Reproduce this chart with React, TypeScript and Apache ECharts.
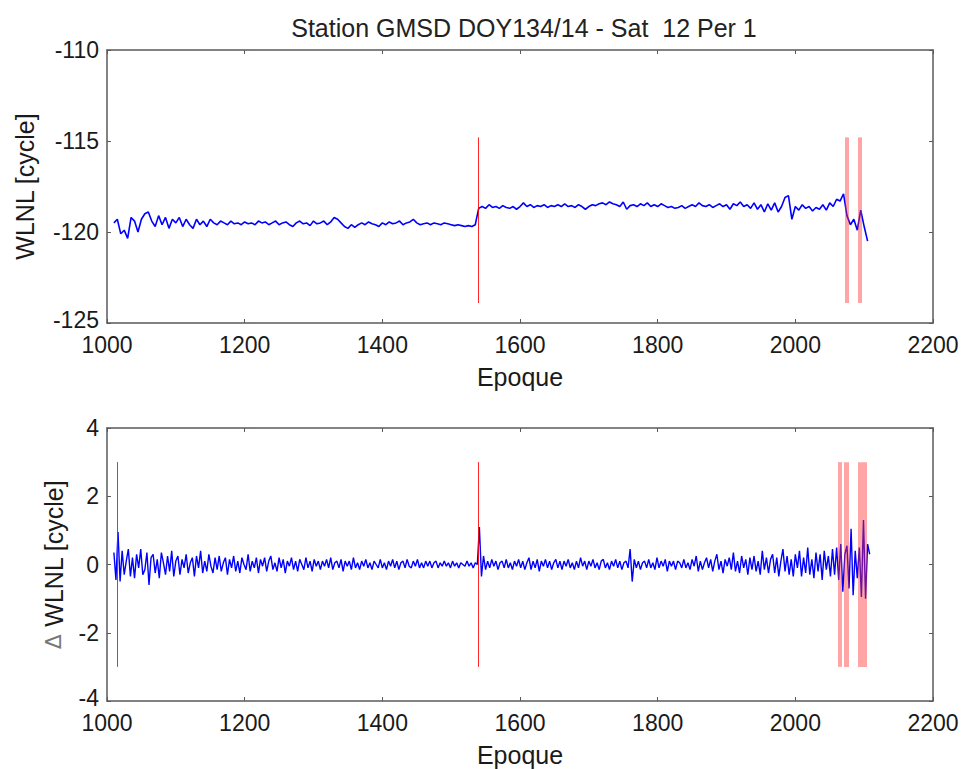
import React, { useEffect, useRef } from "react";
import * as echarts from "echarts";

const title = "Station GMSD DOY134/14 - Sat  12 Per 1";
const xAxisName = "Epoque";
const topYName = "WLNL [cycle]";
const bottomYName = "{d|\u0394} WLNL [cycle]";

// top panel: WLNL, epochs 1010, 1015, ... (step 5)
const topStartEpoch = 1010;
const topStep = 5;
const topWLNL = [
  -119.5, -119.3, -120.1, -119.9, -120.35, -119.2, -119.4, -120.0, -119.3, -119.0,
  -118.9, -119.4, -119.7, -119.1, -119.6, -119.2, -119.8, -119.3, -119.5, -119.2,
  -119.7, -119.3, -119.6, -119.8, -119.3, -119.6, -119.4, -119.7, -119.3, -119.5,
  -119.6, -119.4, -119.5, -119.6, -119.4, -119.55, -119.5, -119.6, -119.45, -119.55,
  -119.5, -119.6, -119.4, -119.5, -119.45, -119.6, -119.5, -119.4, -119.6, -119.5,
  -119.45, -119.6, -119.7, -119.5, -119.4, -119.55, -119.5, -119.65, -119.4, -119.55,
  -119.5, -119.4, -119.6, -119.45, -119.2, -119.3, -119.5, -119.7, -119.8, -119.6,
  -119.75, -119.6, -119.5, -119.6, -119.45, -119.55, -119.6, -119.7, -119.5, -119.6,
  -119.45, -119.55, -119.5, -119.4, -119.6, -119.5, -119.45, -119.3, -119.5, -119.6,
  -119.55, -119.5, -119.6, -119.5, -119.55, -119.6, -119.5, -119.55, -119.6, -119.65,
  -119.6, -119.65, -119.7, -119.65, -119.7, -119.6, -118.7, -118.6, -118.7, -118.5,
  -118.65, -118.6, -118.7, -118.55, -118.65, -118.7, -118.6, -118.75, -118.6, -118.4,
  -118.6, -118.5, -118.65, -118.55, -118.6, -118.5, -118.65, -118.55, -118.6, -118.5,
  -118.6, -118.45, -118.6, -118.55, -118.65, -118.5, -118.6, -118.75, -118.6, -118.5,
  -118.55, -118.45, -118.4, -118.5, -118.35, -118.45, -118.5, -118.6, -118.35, -118.75,
  -118.55, -118.5, -118.6, -118.45, -118.55, -118.4, -118.6, -118.5, -118.6, -118.45,
  -118.55, -118.65, -118.6, -118.7, -118.65, -118.55, -118.7, -118.6, -118.5, -118.6,
  -118.4, -118.55, -118.6, -118.5, -118.65, -118.55, -118.45, -118.6, -118.5, -118.75,
  -118.45, -118.55, -118.35, -118.6, -118.5, -118.7, -118.4, -118.75, -118.5, -118.9,
  -118.45, -118.8, -118.4, -118.9, -118.6, -118.1, -118.0, -119.3, -118.6, -118.8,
  -118.5, -118.7, -118.6, -118.85, -118.65, -118.75, -118.5, -118.8, -118.4, -118.6,
  -118.2, -118.3, -117.9, -119.1, -119.6, -119.3, -119.9, -118.8, -119.7, -120.5,
];

// bottom panel: delta WLNL, epochs 1010, 1013, ... (step 3)
const bottomStartEpoch = 1010;
const bottomStep = 3;
const bottomDelta = [
  0.35, -0.45, 0.95, -0.5, 0.4, -0.3, 0.1, 0.45, -0.35, 0.2,
  -0.4, 0.3, -0.1, 0.45, -0.3, -0.15, 0.35, -0.6, 0.2, 0.3,
  -0.25, 0.15, -0.4, 0.35, 0.05, -0.3, 0.25, -0.2, 0.4, -0.35,
  0.1, 0.25, -0.3, 0.15, -0.1, 0.3, -0.25, 0.05, 0.2, -0.35,
  0.25, -0.1, 0.4, -0.25, 0.1, -0.2, 0.3, -0.05, -0.25, 0.2,
  -0.15, 0.25, -0.2, 0.05, 0.2, -0.3, 0.15, -0.1, 0.25, -0.2,
  0.1, -0.25, 0.2, 0.0, -0.15, 0.3, -0.2, 0.1, -0.1, 0.2,
  -0.25, 0.15, -0.05, 0.2, -0.2, 0.1, 0.25, -0.15, 0.05, -0.2,
  0.2, -0.1, 0.15, -0.25, 0.1, -0.05, 0.2, -0.15, 0.1, -0.2,
  0.15, 0.0, -0.15, 0.2, -0.1, 0.1, -0.2, 0.15, -0.05, 0.1,
  -0.15, 0.1, -0.05, 0.15, -0.1, 0.2, -0.15, 0.05, 0.1, -0.1,
  0.15, -0.2, 0.1, -0.05, 0.1, -0.15, 0.2, -0.1, 0.05, -0.15,
  0.1, -0.05, 0.15, -0.1, 0.05, -0.15, 0.1, 0.0, -0.1, 0.15,
  -0.1, 0.05, -0.15, 0.1, -0.05, 0.15, -0.1, 0.1, -0.15, 0.05,
  0.1, -0.1, 0.15, -0.05, -0.1, 0.1, -0.05, 0.15, -0.1, 0.05,
  -0.1, 0.1, -0.05, 0.1, -0.1, 0.05, 0.1, -0.1, 0.05, -0.05,
  0.1, -0.05, 0.05, -0.1, 0.1, -0.05, 0.05, -0.1, 0.05, 0.0,
  -0.05, 0.1, -0.05, 0.05, -0.1, 0.05, 0.0, 1.1, -0.35, 0.25,
  -0.15, 0.1, -0.1, 0.15, -0.05, 0.1, -0.15, 0.05, 0.1, -0.1,
  0.15, -0.1, 0.05, -0.15, 0.1, -0.05, 0.15, -0.1, 0.1, -0.15,
  0.05, 0.2, -0.15, 0.1, -0.1, 0.15, -0.2, 0.1, -0.05, 0.15,
  -0.1, 0.1, -0.15, 0.05, 0.15, -0.1, 0.1, -0.15, 0.1, -0.05,
  0.15, -0.1, 0.05, -0.15, 0.1, -0.1, 0.2, -0.05, 0.1, -0.15,
  0.1, -0.05, 0.15, -0.1, 0.05, -0.15, 0.1, 0.15, -0.1, 0.05,
  -0.15, 0.1, -0.05, 0.15, -0.1, 0.1, -0.15, 0.05, 0.1, -0.1,
  0.45, -0.5, 0.15, -0.1, 0.1, -0.15, 0.05, 0.1, -0.1, 0.15,
  -0.1, 0.05, -0.15, 0.2, -0.1, 0.1, -0.05, 0.15, -0.2, 0.1,
  -0.05, 0.1, -0.15, 0.1, 0.05, -0.1, 0.15, -0.1, 0.05, -0.15,
  0.15, -0.05, 0.25, -0.2, 0.1, -0.15, 0.05, 0.2, -0.1, 0.15,
  -0.2, 0.1, 0.3, -0.15, 0.1, -0.25, 0.15, -0.05, 0.2, -0.15,
  0.35, -0.2, 0.1, -0.25, 0.25, -0.1, 0.15, -0.3, 0.2, -0.15,
  0.25, -0.2, 0.1, -0.3, 0.4, -0.15, 0.2, -0.25, 0.15, 0.3,
  -0.25, 0.2, -0.35, 0.1, 0.45, -0.2, 0.25, -0.3, 0.15, -0.35,
  0.3, -0.1, 0.4, -0.35, 0.2, -0.25, 0.5, -0.3, 0.15, -0.4,
  0.35, -0.2, 0.3, -0.45, 0.4, -0.15, 0.25, -0.35, 0.45, -0.3,
  0.5, -0.45, 0.6, -0.8, 0.3, 0.55, -0.7, 1.05, -0.9, 0.4,
  -0.4, 0.5, -0.95, 1.3, -1.0, 0.6, 0.3,
];

// cycle-slip markers (epochs) and their vertical extents
const topSlips = [1540, 2074, 2093];
const topSlipRange = [-123.9, -114.8];
const bottomSlips = [1015, 1540, 2065, 2074.5, 2097];
const bottomSlipRange = [-3, 3];

const FONT = "'Liberation Sans', Arial, Helvetica, sans-serif";
const AXIS_COLOR = "#5a5a5a";
const TEXT_COLOR = "#1a1a1a";

function slipWidth(epoch: number, panel: "top" | "bottom") {
  if (epoch < 2000) return 1;
  if (panel === "top") return 4;
  if (epoch > 2090) return 9;
  if (epoch > 2070) return 5;
  return 4;
}

function slipLines(slips: number[], range: number[], panel: "top" | "bottom") {
  return slips.map((e) => [
    {
      coord: [e, range[0]],
      lineStyle: {
        width: slipWidth(e, panel),
        color: e < 2000 ? "rgba(255,0,0,0.85)" : "rgba(255,40,40,0.42)",
        type: "solid",
      },
    },
    { coord: [e, range[1]] },
  ]);
}

export default function App() {
  const ref = useRef<HTMLDivElement>(null);
  useEffect(() => {
    if (!ref.current) return;
    const chart = echarts.init(ref.current, undefined, { renderer: "svg" });

    const topData = topWLNL.map((v, i) => [topStartEpoch + i * topStep, v]);
    const bottomData = bottomDelta.map((v, i) => [bottomStartEpoch + i * bottomStep, v]);

    const tickLabel = {
      color: TEXT_COLOR,
      fontSize: 23,
      lineHeight: 20,
      fontFamily: FONT,
      formatter: (v: number) => String(v),
    };
    const nameStyle = { color: TEXT_COLOR, fontSize: 25, fontFamily: FONT };

    const mkX = (gridIndex: number) => [
      {
        type: "value",
        gridIndex,
        min: 1000,
        max: 2200,
        interval: 200,
        position: "bottom",
        name: xAxisName,
        nameLocation: "middle",
        nameGap: 41,
        nameTextStyle: nameStyle,
        axisLine: { show: true, onZero: false, lineStyle: { color: AXIS_COLOR, width: 1.5 } },
        axisTick: { show: true, inside: true, length: 4, lineStyle: { color: AXIS_COLOR } },
        axisLabel: { ...tickLabel, margin: 12 },
        splitLine: { show: false },
      },
      {
        type: "value",
        gridIndex,
        min: 1000,
        max: 2200,
        interval: 200,
        position: "top",
        axisLine: { show: true, onZero: false, lineStyle: { color: AXIS_COLOR, width: 1.5 } },
        axisTick: { show: true, inside: true, length: 4, lineStyle: { color: AXIS_COLOR } },
        axisLabel: { show: false },
        splitLine: { show: false },
      },
    ];

    const mkY = (gridIndex: number, min: number, max: number, interval: number, name: string, nameGap: number) => [
      {
        type: "value",
        gridIndex,
        min,
        max,
        interval,
        position: "left",
        name,
        nameLocation: "middle",
        nameGap,
        nameRotate: 90,
        nameTextStyle: {
          ...nameStyle,
          rich: { d: { fontFamily: "'DejaVu Sans', sans-serif", fontSize: 22, color: "#777" } },
        },
        axisLine: { show: true, onZero: false, lineStyle: { color: AXIS_COLOR, width: 1.5 } },
        axisTick: { show: true, inside: true, length: 4, lineStyle: { color: AXIS_COLOR } },
        axisLabel: {
          ...tickLabel,
          margin: 8,
          // lift the lowest label a little so it does not collide with the x labels
          formatter: (v: number) => (v === min ? `{lo|${v}}` : String(v)),
          rich: {
            lo: {
              fontSize: 23,
              lineHeight: 18,
              fontFamily: FONT,
              color: TEXT_COLOR,
              padding: [0, 0, 6, 0],
            },
          },
        },
        splitLine: { show: false },
      },
      {
        type: "value",
        gridIndex,
        min,
        max,
        interval,
        position: "right",
        axisLine: { show: true, onZero: false, lineStyle: { color: AXIS_COLOR, width: 1.5 } },
        axisTick: { show: true, inside: true, length: 4, lineStyle: { color: AXIS_COLOR } },
        axisLabel: { show: false },
        splitLine: { show: false },
      },
    ];

    chart.setOption({
      animation: false,
      backgroundColor: "#ffffff",
      title: {
        text: title,
        left: 519,
        top: 10,
        textAlign: "center",
        textStyle: { color: "#222", fontSize: 25, fontWeight: "normal", fontFamily: FONT },
      },
      grid: [
        { left: 107, top: 50, width: 826, height: 273 },
        { left: 107, top: 428, width: 826, height: 273 },
      ],
      xAxis: [...mkX(0), ...mkX(1)],
      yAxis: [
        ...mkY(0, -125, -110, 5, topYName, 70),
        ...mkY(1, -4, 4, 2, bottomYName, 41),
      ],
      series: [
        {
          type: "line",
          xAxisIndex: 0,
          yAxisIndex: 0,
          data: topData,
          showSymbol: false,
          symbol: "none",
          lineStyle: { color: "#0000ff", width: 1.6 },
          silent: true,
          markLine: {
            silent: true,
            symbol: ["none", "none"],
            label: { show: false },
            emphasis: { disabled: true },
            data: slipLines(topSlips, topSlipRange, "top"),
          },
        },
        {
          type: "line",
          xAxisIndex: 2,
          yAxisIndex: 2,
          data: bottomData,
          showSymbol: false,
          symbol: "none",
          lineStyle: { color: "#0000ff", width: 1.4 },
          silent: true,
          markLine: {
            silent: true,
            symbol: ["none", "none"],
            label: { show: false },
            emphasis: { disabled: true },
            data: slipLines(bottomSlips, bottomSlipRange, "bottom"),
          },
        },
      ],
    });

    return () => chart.dispose();
  }, []);

  return (
    <div
      ref={ref}
      style={{ position: "fixed", left: 0, top: 0, width: 963, height: 769, background: "#fff" }}
    />
  );
}
